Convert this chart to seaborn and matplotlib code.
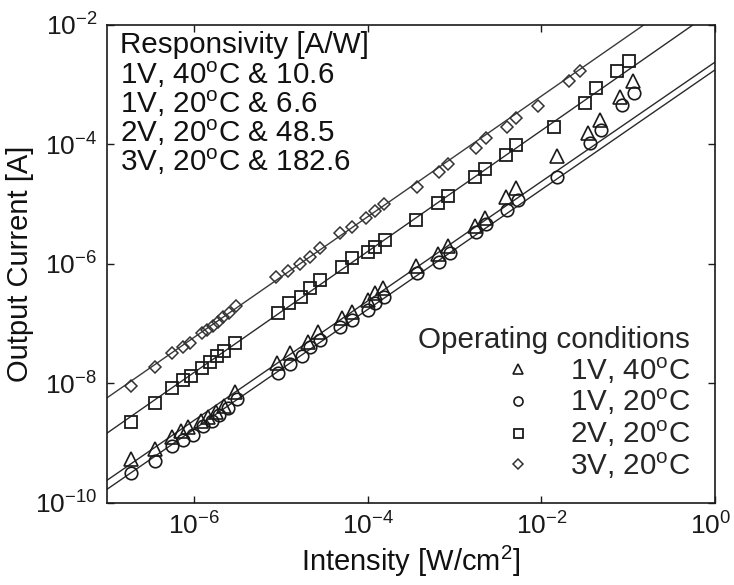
import numpy as np
import pandas as pd
import matplotlib
matplotlib.use("Agg")
import matplotlib.pyplot as plt
import matplotlib.transforms as mtransforms
import seaborn as sns
from matplotlib.ticker import NullLocator

# ---------------- data (log10 values) ----------------
conditions = ["1V, 40$^{o}$C", "1V, 20$^{o}$C", "2V, 20$^{o}$C", "3V, 20$^{o}$C"]
responsivity = ["10.6", "6.6", "48.5", "182.6"]
markers = ["^", "o", "s", "D"]

tri_logx = [-6.724, -6.448, -6.253, -6.149, -6.069, -5.920, -5.839, -5.747, -5.655, -5.529,
            -5.046, -4.897, -4.690, -4.575, -4.299, -4.184, -4.000, -3.920, -3.828,
            -3.448, -3.195, -3.080, -2.759, -2.644, -2.402, -2.287,
            -1.816, -1.460, -1.322, -1.092, -0.943]
tri_logy = [-9.264, -9.096, -8.895, -8.795, -8.728, -8.628, -8.561, -8.477, -8.377, -8.142,
            -7.657, -7.490, -7.305, -7.138, -6.904, -6.803, -6.603, -6.485, -6.402,
            -6.033, -5.833, -5.699, -5.364, -5.230, -4.879, -4.728,
            -4.192, -3.808, -3.590, -3.205, -2.937]

cir_logx = [-6.724, -6.448, -6.253, -6.126, -6.011, -5.897, -5.793, -5.713, -5.609, -5.506,
            -5.034, -4.897, -4.759, -4.667, -4.552, -4.322, -4.184, -4.000, -3.920, -3.816,
            -3.437, -3.184, -3.057, -2.747, -2.632, -2.391, -2.264,
            -1.816, -1.437, -1.310, -1.069, -0.931]
cir_logy = [-9.498, -9.297, -9.046, -8.946, -8.862, -8.711, -8.628, -8.527, -8.410, -8.259,
            -7.824, -7.674, -7.540, -7.389, -7.272, -7.054, -6.937, -6.770, -6.653, -6.552,
            -6.151, -5.967, -5.816, -5.464, -5.331, -5.096, -4.929,
            -4.544, -3.975, -3.757, -3.339, -3.138]

sq_logx = [-6.724, -6.448, -6.253, -6.126, -6.034, -5.908, -5.816, -5.736, -5.655, -5.529,
           -5.034, -4.908, -4.770, -4.667, -4.552, -4.299, -4.184, -4.000, -3.920, -3.805,
           -3.448, -3.195, -3.080, -2.759, -2.644, -2.402, -2.287,
           -1.851, -1.494, -1.368, -1.126, -0.989]
sq_logy = [-8.644, -8.326, -8.075, -7.941, -7.874, -7.741, -7.640, -7.540, -7.456, -7.322,
           -6.820, -6.653, -6.552, -6.402, -6.268, -6.050, -5.900, -5.799, -5.715, -5.598,
           -5.264, -4.979, -4.862, -4.544, -4.410, -4.176, -4.008,
           -3.707, -3.305, -3.054, -2.770, -2.603]

dia_logx = [-6.724, -6.448, -6.253, -6.126, -6.046, -5.908, -5.851, -5.782, -5.724, -5.667,
            -5.598, -5.517, -5.057, -4.920, -4.782, -4.667, -4.552, -4.322, -4.184, -4.023,
            -3.920, -3.816, -3.437, -3.184, -3.080, -2.747, -2.632, -2.391, -2.287,
            -2.034, -1.678, -1.552]
dia_logy = [-8.042, -7.724, -7.490, -7.389, -7.322, -7.155, -7.105, -7.038, -6.971, -6.887,
            -6.820, -6.703, -6.218, -6.117, -6.000, -5.883, -5.732, -5.481, -5.381, -5.230,
            -5.113, -4.996, -4.711, -4.460, -4.326, -4.059, -3.891, -3.707, -3.556,
            -3.356, -2.937, -2.770]

# fitted lines: log10(I_out) = fit_logk + fit_slope * log10(intensity)
fit_slope = [1.0, 1.003, 1.013, 1.01]
fit_logk = [-2.62, -2.75, -1.74, -1.17]

x_limits = [1e-7, 1e0]
y_limits = [1e-10, 1e-2]
x_ticks = [1e-6, 1e-4, 1e-2, 1e0]
y_ticks = [1e-10, 1e-8, 1e-6, 1e-4, 1e-2]

all_logx = [tri_logx, cir_logx, sq_logx, dia_logx]
all_logy = [tri_logy, cir_logy, sq_logy, dia_logy]

# ---------------- style ----------------
sns.set_theme(style="ticks")
plt.rcParams["font.family"] = ["Liberation Sans", "DejaVu Sans"]
plt.rcParams["mathtext.default"] = "regular"
plt.rcParams["axes.unicode_minus"] = False

fig = plt.figure(figsize=(7.34, 5.85), dpi=100)
ax = fig.add_axes([0.1458, 0.1402, 0.8285, 0.8171])
ax.set_xscale("log")
ax.set_yscale("log")

edge_cols = ["#1a1a1a", "#1a1a1a", "#1a1a1a", "#333333"]
msizes = [9.5, 9.0, 9.0, 6.6]
mews = [1.2, 1.2, 1.3, 1.1]
line_cols = ["#2a2a2a", "#2a2a2a", "#2a2a2a", "#3a3a3a"]

for i in range(4):
    df = pd.DataFrame({"x": 10.0 ** np.array(all_logx[i]),
                       "y": 10.0 ** np.array(all_logy[i])})
    lx = np.array(x_limits)
    ly = 10.0 ** (fit_logk[i] + fit_slope[i] * np.log10(lx))
    ldf = pd.DataFrame({"x": lx, "y": ly})
    sns.lineplot(data=ldf, x="x", y="y", ax=ax, color=line_cols[i], lw=1.0,
                 estimator=None, sort=False, zorder=2)
    sns.lineplot(data=df, x="x", y="y", ax=ax, estimator=None, sort=False,
                 linestyle="none", marker=markers[i], markersize=msizes[i],
                 markerfacecolor="none", markeredgecolor=edge_cols[i],
                 markeredgewidth=mews[i], color=edge_cols[i],
                 label=conditions[i], zorder=3)

ax.set_xlim(*x_limits)
ax.set_ylim(*y_limits)
ax.set_xticks(x_ticks)
ax.set_yticks(y_ticks)
ax.xaxis.set_minor_locator(NullLocator())
ax.yaxis.set_minor_locator(NullLocator())
ax.tick_params(which="both", direction="in", length=5, width=1.0, top=True, right=True,
               labelsize=19, pad=7, colors="#1a1a1a")
for sp in ax.spines.values():
    sp.set_linewidth(1.2)
    sp.set_color("#1a1a1a")
    sp.set_visible(True)

# nudge the last x tick label slightly left so it stays inside the canvas
last_tick = ax.xaxis.get_major_ticks()[-1]
last_tick.label1.set_transform(last_tick.label1.get_transform() +
                               mtransforms.ScaledTranslation(-3 / 72, 0, fig.dpi_scale_trans))

ax.set_xlabel("Intensity [W/cm$^{2}$]", fontsize=21, labelpad=3, color="#111111")
ax.set_ylabel("Output Current [A]", fontsize=21, labelpad=1, color="#111111")

# responsivity text block
text_y = [0.958, 0.895, 0.835, 0.774, 0.713]
ax.text(0.021, text_y[0], "Responsivity [A/W]", transform=ax.transAxes,
        fontsize=21.3, va="center", ha="left", color="#111111")
for i in range(4):
    ax.text(0.021, text_y[i + 1], f"{conditions[i]} & {responsivity[i]}",
            transform=ax.transAxes, fontsize=21.3, va="center", ha="left", color="#111111")

leg = ax.legend(title="Operating conditions", loc="lower right",
                bbox_to_anchor=(0.959, 0.047), frameon=False, alignment="right",
                markerscale=0.72, handlelength=1.0, handletextpad=1.25,
                labelspacing=0.04, fontsize=21.3, title_fontsize=21.3,
                borderpad=0.0, borderaxespad=0.0)

fig.savefig("out.png", dpi=100, facecolor="white")
